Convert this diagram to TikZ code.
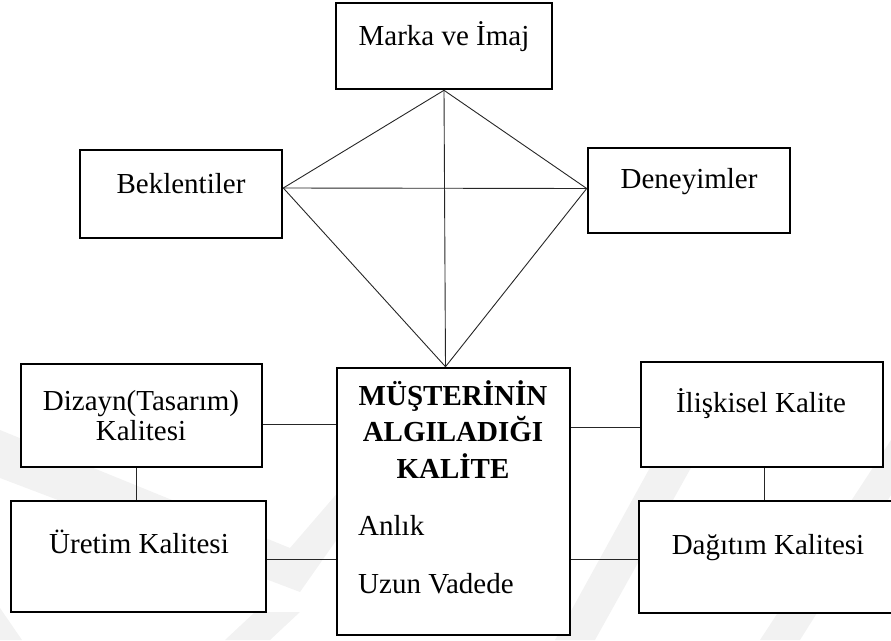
\documentclass[tikz,border=0pt]{standalone}
\usepackage{fontspec}
\setmainfont{Liberation Serif}
\usetikzlibrary{calc}
\begin{document}
\begin{tikzpicture}[x=1pt,y=-1pt,
  box/.style={draw=black,line width=2.6pt,fill=white,rectangle,inner sep=0pt},
  link/.style={draw=black!85,line width=0.9pt},
  lbl/.style={inner sep=0pt,anchor=base,font=\fontsize{29}{32}\selectfont},
  boldlbl/.style={lbl,font=\fontsize{29}{32}\selectfont\bfseries},
  emblem/.style={fill=black!5,draw=none}]
\useasboundingbox (0,0) rectangle (891,640);
\clip (0,0) rectangle (891,640);

% faint background emblem
\fill[emblem] (0,430) -- (290,548) -- (340,490) -- (340,535) -- (300,592) -- (0,478) -- cycle;
\fill[emblem] (555,640) -- (690,395) -- (712,430) -- (595,640) -- cycle;
\fill[emblem] (760,640) -- (891,440) -- (891,495) -- (800,640) -- cycle;
\fill[emblem] (225,640) -- (255,612) -- (300,612) -- (270,640) -- cycle;
\fill[emblem] (0,608) -- (22,640) -- (0,640) -- cycle;

% boxes
\node[box,minimum width=216pt,minimum height=86pt] (marka) at (444,46) {};
\node[box,minimum width=202pt,minimum height=88pt] (bek) at (181,194) {};
\node[box,minimum width=202pt,minimum height=85pt] (den) at (689,190.5) {};
\node[box,minimum width=233pt,minimum height=267pt] (mus) at (453.5,501.5) {};
\node[box,minimum width=241pt,minimum height=103pt] (diz) at (141.5,415.5) {};
\node[box,minimum width=255pt,minimum height=111pt] (uret) at (138.5,556.5) {};
\node[box,minimum width=242pt,minimum height=105pt] (ilis) at (762,414.5) {};
\node[box,minimum width=261pt,minimum height=112pt] (dag) at (769.5,557) {};

% meeting points of the kite lines
\coordinate (bekp) at ([yshift=6pt]bek.east);
\coordinate (denp) at ([yshift=2pt]den.west);
\coordinate (musp) at ([xshift=-8pt]mus.north);

% kite connecting the three influences with the perceived quality
\draw[link] (marka.south) -- (bekp);
\draw[link] (marka.south) -- (denp);
\draw[link] (marka.south) -- (musp);
\draw[link] (bekp) -- (denp);
\draw[link] (bekp) -- (musp);
\draw[link] (denp) -- (musp);

% side links
\draw[link] ([yshift=-8.5pt]diz.east) coordinate (d1) -- (d1 -| mus.west);
\draw[link] ([yshift=-2.5pt]uret.east) coordinate (u1) -- (u1 -| mus.west);
\draw[link] ([yshift=-12.5pt]ilis.west) coordinate (i1) -- (i1 -| mus.east);
\draw[link] ([yshift=-2pt]dag.west) coordinate (g1) -- (g1 -| mus.east);
\draw[link] ([xshift=-5.5pt]diz.south) coordinate (d2) -- (d2 |- uret.north);
\draw[link] ([xshift=2pt]ilis.south) coordinate (i2) -- (i2 |- dag.north);

% texts
\node[lbl] at (444,45) {Marka ve İmaj};
\node[lbl] at (181,193) {Beklentiler};
\node[lbl] at (689,188) {Deneyimler};
\node[lbl] at (141,410) {Dizayn(Tasarım)};
\node[lbl] at (141,440) {Kalitesi};
\node[lbl] at (139,553) {Üretim Kalitesi};
\node[lbl] at (761,412) {İlişkisel Kalite};
\node[lbl] at (768,554) {Dağıtım Kalitesi};
\node[boldlbl] at (453,405) {MÜŞTERİNİN};
\node[boldlbl] at (453,441) {ALGILADIĞI};
\node[boldlbl] at (453,478) {KALİTE};
\node[lbl,anchor=base west] at (358,535) {Anlık};
\node[lbl,anchor=base west] at (358,593) {Uzun Vadede};
\end{tikzpicture}
\end{document}
